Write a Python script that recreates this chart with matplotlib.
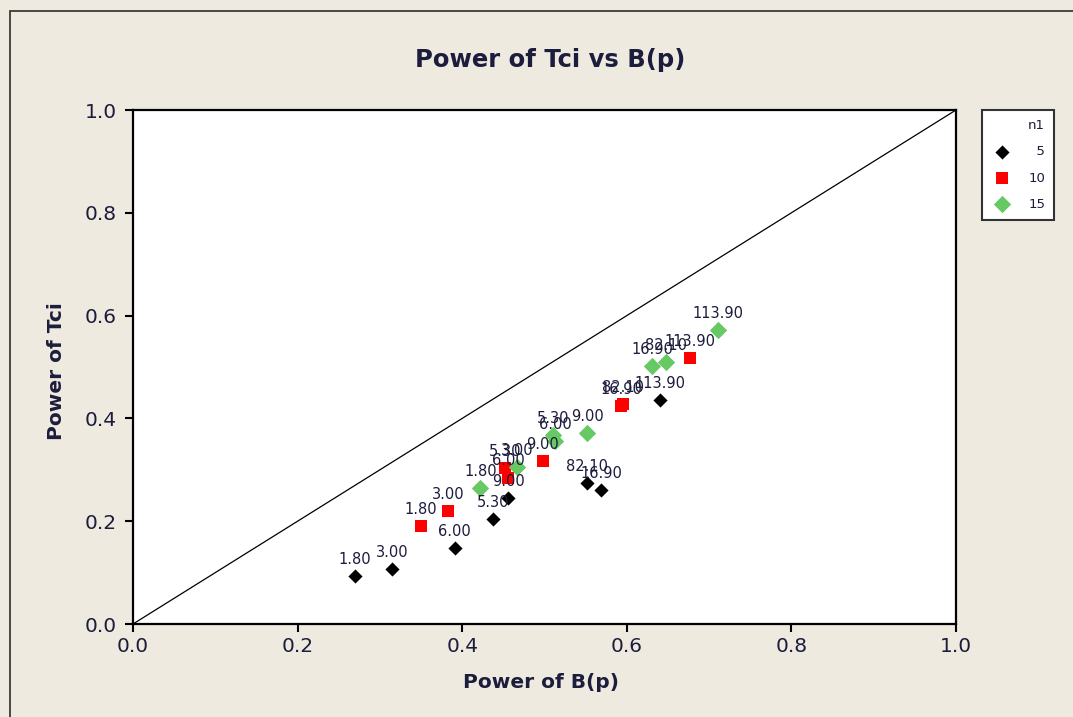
import numpy as np
import matplotlib
matplotlib.use('Agg')
import matplotlib.pyplot as plt
from matplotlib.patches import Rectangle


##########
## DATA ##
##########

groups = ['5', '10', '15']
point_labels = ['1.80', '3.00', '5.30', '6.00', '9.00', '16.90', '82.10', '113.90']

power_bp_5 = [0.270, 0.315, 0.437, 0.391, 0.456, 0.569, 0.552, 0.640]
power_tci_5 = [0.093, 0.107, 0.204, 0.147, 0.245, 0.261, 0.274, 0.436]

power_bp_10 = [0.350, 0.383, 0.452, 0.456, 0.498, 0.593, 0.595, 0.677]
power_tci_10 = [0.191, 0.220, 0.304, 0.285, 0.317, 0.424, 0.428, 0.518]

power_bp_15 = [0.422, 0.467, 0.510, 0.513, 0.552, 0.631, 0.648, 0.711]
power_tci_15 = [0.265, 0.305, 0.368, 0.356, 0.372, 0.502, 0.510, 0.572]

ticks = [0.0, 0.2, 0.4, 0.6, 0.8, 1.0]


###########
## STYLE ##
###########

W, H = 1073, 717
bg = '#EEEAE0'
txt = '#1c1c3c'
styles = {
    '5': dict(marker='D', color='black', s=52),
    '10': dict(marker='s', color='#FF0000', s=86),
    '15': dict(marker='D', color='#66C964', s=78),
}


##############
## PLOTTING ##
##############

def px_rect(left, top, right, bottom):
    return [left / W, 1 - bottom / H, (right - left) / W, (bottom - top) / H]


def add_group(ax, xs, ys, key):
    st = styles[key]
    sc = ax.scatter(xs, ys, marker=st['marker'], c=st['color'], s=st['s'],
                    linewidths=0, zorder=3, label='\u2007' * (2 - len(key)) + key)
    for x, y, lab in zip(xs, ys, point_labels):
        ax.annotate(lab, (x, y), xytext=(0, 6.5), textcoords='offset points',
                    ha='center', va='bottom', fontsize=10.5, color=txt, zorder=4)
    return sc


fig = plt.figure(figsize=(W / 100, H / 100), dpi=100, facecolor=bg)

# outer frame (only left/top edges are in view)
fig.add_artist(Rectangle((10 / W, -0.2), 1.5, 1.2 - 11 / H, transform=fig.transFigure,
                         fill=False, edgecolor='#3a3a3a', linewidth=1.3))

ax = fig.add_axes(px_rect(133, 110, 956, 624))
ax.set_facecolor('white')

ax.plot([0, 1], [0, 1], color='black', linewidth=0.9, zorder=2)

handles = []
handles.append(add_group(ax, power_bp_5, power_tci_5, '5'))
handles.append(add_group(ax, power_bp_10, power_tci_10, '10'))
handles.append(add_group(ax, power_bp_15, power_tci_15, '15'))

ax.set_xlim(0, 1)
ax.set_ylim(0, 1)
ax.set_xticks(ticks)
ax.set_yticks(ticks)
ax.set_xticklabels([f'{t:.1f}' for t in ticks])
ax.set_yticklabels([f'{t:.1f}' for t in ticks])
ax.tick_params(axis='both', direction='out', length=5.5, width=1.5, colors='black',
               labelcolor=txt, labelsize=14.5)
ax.tick_params(axis='x', pad=4)
ax.tick_params(axis='y', pad=6)
for sp in ax.spines.values():
    sp.set_linewidth(1.6)
    sp.set_color('black')

fig.text(550 / W, 1 - 60 / H, 'Power of Tci vs B(p)', ha='center', va='center',
         fontsize=17.5, fontweight='bold', color=txt)
fig.text(541 / W, 1 - 683 / H, 'Power of B(p)', ha='center', va='center',
         fontsize=14.5, fontweight='bold', color=txt)
fig.text(57 / W, 1 - 371 / H, 'Power of Tci', ha='center', va='center', rotation=90,
         fontsize=14.5, fontweight='bold', color=txt)

leg = ax.legend(handles=handles, title='n1', loc='upper left',
                bbox_to_anchor=(982 / W, 1 - 110 / H), bbox_transform=fig.transFigure,
                borderaxespad=0, fontsize=9.5, title_fontsize=9.5, alignment='right',
                frameon=True, fancybox=False, framealpha=1, edgecolor='#333333',
                borderpad=0.7, handlelength=1.6, handletextpad=1.2, labelspacing=1.0)
leg.get_frame().set_linewidth(1.5)
for t in leg.get_texts():
    t.set_color(txt)
leg.get_title().set_color(txt)

fig.savefig('out.png', dpi=100, facecolor=bg)
